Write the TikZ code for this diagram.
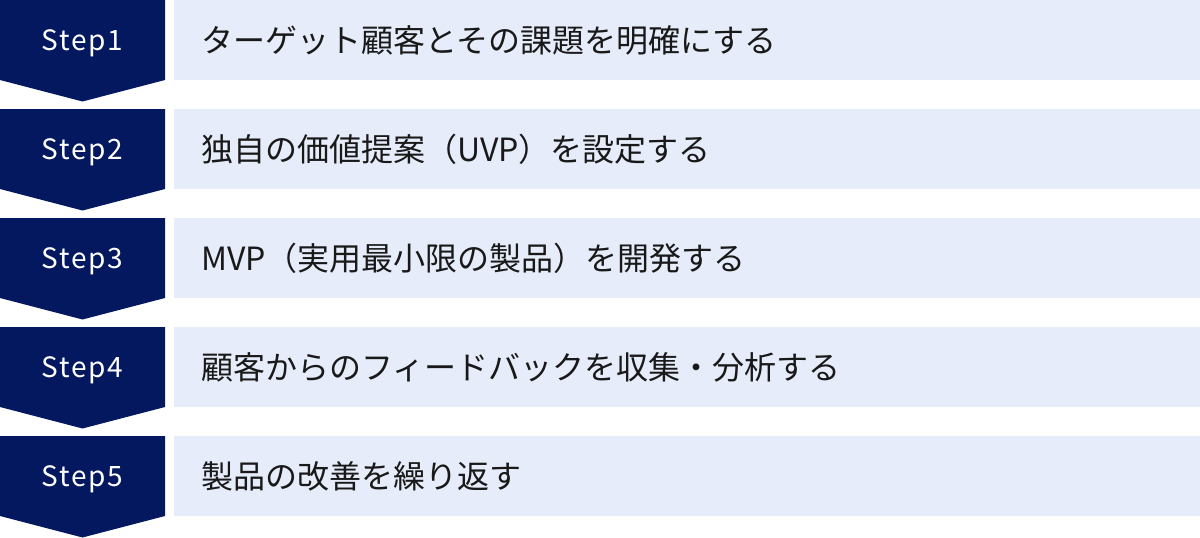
\documentclass[tikz,border=0pt]{standalone}
\usepackage{fontspec}
\setmainfont{Noto Sans CJK JP}
\newfontfamily\stepfont[LetterSpace=6]{Noto Sans CJK JP}
\definecolor{stepnavy}{RGB}{4,24,96}
\definecolor{taskbg}{RGB}{230,236,249}
\tikzset{
  stepshape/.style={fill=stepnavy},
  taskbox/.style={fill=taskbg},
  steplabel/.style={anchor=base, inner sep=0pt, text=white,
    font=\stepfont\fontsize{28}{28}\selectfont},
  tasklabel/.style={anchor=base west, inner sep=0pt, text=black!90,
    font=\fontsize{32}{32}\selectfont}
}

\begin{document}
\begin{tikzpicture}[x=1pt, y=-1pt]
	\useasboundingbox (0,0) rectangle (1200,538);
	\foreach \t [count=\i, evaluate=\i as \rowy using 109*\i-109] in
		{ターゲット顧客とその課題を明確にする,
		 独自の価値提案（UVP）を設定する,
		 MVP（実用最小限の製品）を開発する,
		 顧客からのフィードバックを収集・分析する,
		 製品の改善を繰り返す}
	{
		\fill[taskbox] (174,\rowy) rectangle (1200,\rowy+80);
		\fill[stepshape] (0,\rowy) -- (165,\rowy) -- (165,\rowy+80)
			-- (82.5,\rowy+101.5) -- (0,\rowy+80) -- cycle;
		\node[steplabel] (step\i) at (82.5,\rowy+50) {Step\i};
		\node[tasklabel] (task\i) at (201,\rowy+52.5) {\t};
	}
\end{tikzpicture}
\end{document}
